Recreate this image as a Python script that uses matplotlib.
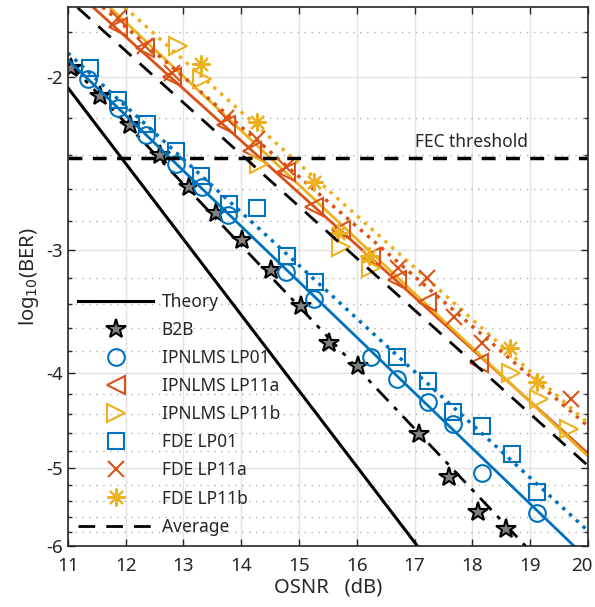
import numpy as np
import matplotlib
matplotlib.use("Agg")
import matplotlib.pyplot as plt
import matplotlib.transforms as mtransforms

plt.rcParams["font.family"] = ["Noto Sans", "DejaVu Sans"]
plt.rcParams["axes.unicode_minus"] = False

# values are log10(BER)
theory_osnr = [11.0, 17.05]
theory_ber = [-2.05, -6.0]

b2b_osnr = [11.06, 11.55, 12.07, 12.59, 13.10, 13.56, 14.02, 14.51, 15.04, 15.52, 16.02, 17.07, 17.60, 18.10, 18.59]
b2b_ber = [-1.96, -2.09, -2.24, -2.40, -2.59, -2.75, -2.93, -3.14, -3.42, -3.73, -3.94, -4.62, -5.11, -5.54, -5.77]
b2b_fit_osnr = [11.0, 18.92]
b2b_fit_ber = [-1.93, -6.0]

ip01_osnr = [11.35, 11.87, 12.36, 12.87, 13.33, 13.78, 14.78, 15.26, 16.24, 16.69, 17.23, 17.67, 18.17, 19.12]
ip01_ber = [-2.01, -2.15, -2.29, -2.45, -2.59, -2.76, -3.16, -3.36, -3.85, -4.06, -4.28, -4.51, -5.06, -5.55]
ip01_fit_osnr = [11.0, 19.76]
ip01_fit_ber = [-1.92, -6.0]

fde01_osnr = [11.38, 11.87, 12.37, 12.87, 13.31, 13.79, 14.28, 14.79, 15.27, 16.70, 17.23, 17.67, 18.17, 18.68, 19.12]
fde01_ber = [-1.96, -2.11, -2.23, -2.38, -2.52, -2.69, -2.72, -3.04, -3.23, -3.85, -4.08, -4.38, -4.53, -4.84, -5.29]
fde01_fit_osnr = [11.0, 20.0]
fde01_fit_ber = [-1.89, -5.79]

ip11a_osnr = [11.86, 12.33, 12.81, 13.74, 14.19, 14.78, 15.26, 15.72, 16.24, 16.69, 17.22, 18.12]
ip11a_ber = [-1.78, -1.87, -2.00, -2.24, -2.38, -2.50, -2.71, -2.86, -3.05, -3.22, -3.39, -3.91]
ip11a_fit_osnr = [11.43, 20.0]
ip11a_fit_ber = [-1.697, -4.83]

ip11b_osnr = [12.90, 13.33, 14.31, 15.72, 16.24, 18.67, 19.16, 19.67]
ip11b_ber = [-1.86, -2.01, -2.45, -2.98, -3.13, -4.00, -4.25, -4.56]
ip11b_fit_osnr = [11.72, 20.0]
ip11b_fit_ber = [-1.697, -4.86]

fde11a_osnr = [11.86, 12.33, 12.81, 13.74, 14.28, 14.78, 16.72, 17.22, 17.69, 18.16, 19.71]
fde11a_ber = [-1.74, -1.86, -1.98, -2.20, -2.31, -2.47, -3.13, -3.20, -3.51, -3.73, -4.25]
fde11a_fit_osnr = [11.6, 20.0]
fde11a_fit_ber = [-1.697, -4.53]

fde11b_osnr = [13.31, 14.28, 15.26, 15.67, 16.22, 18.66, 19.12]
fde11b_ber = [-1.94, -2.22, -2.56, -2.88, -3.04, -3.77, -4.09]
fde11b_fit_osnr = [11.98, 20.0]
fde11b_fit_ber = [-1.697, -4.50]

avg_osnr = [11.17, 20.0]
avg_ber = [-1.70, -4.97]

fec_ber = -2.42

BLUE = "#0072BD"
RED = "#D95319"
YEL = "#EDB120"
AX = "#262626"


def fwd(y):
    return -np.log10(np.clip(-np.asarray(y, dtype=float), 1e-3, None))


def inv(u):
    return -10 ** (-np.asarray(u, dtype=float))


fig = plt.figure(figsize=(5.95, 6.07), dpi=100)
ax = fig.add_axes([0.114, 0.1005, 0.874, 0.888])
ax.set_yscale("function", functions=(fwd, inv))

ms = 12
mew = 1.5
star = dict(marker="*", ms=15, mfc="#808080", mec="black", mew=1.5, ls="none")

ax.plot(theory_osnr, theory_ber, color="black", lw=2.2, label="Theory")
ax.plot(b2b_fit_osnr, b2b_fit_ber, color="black", lw=2, ls="-.", dashes=(6, 3, 1.5, 3))
ax.plot(b2b_osnr, b2b_ber, label="B2B", **star)

ax.plot(ip01_fit_osnr, ip01_fit_ber, color=BLUE, lw=2)
ax.plot(fde01_fit_osnr, fde01_fit_ber, color=BLUE, lw=2.5, ls=":")
ax.plot(ip11a_fit_osnr, ip11a_fit_ber, color=RED, lw=2)
ax.plot(ip11b_fit_osnr, ip11b_fit_ber, color=YEL, lw=2)
ax.plot(fde11a_fit_osnr, fde11a_fit_ber, color=RED, lw=2.5, ls=":")
ax.plot(fde11b_fit_osnr, fde11b_fit_ber, color=YEL, lw=2.5, ls=":")

ax.plot(ip01_osnr, ip01_ber, ls="none", marker="o", ms=ms, mfc="none", mec=BLUE, mew=mew, label="IPNLMS LP01")
ax.plot(ip11a_osnr, ip11a_ber, ls="none", marker="<", ms=ms + 1, mfc="none", mec=RED, mew=mew, label="IPNLMS LP11a")
ax.plot(ip11b_osnr, ip11b_ber, ls="none", marker=">", ms=ms + 1, mfc="none", mec=YEL, mew=mew, label="IPNLMS LP11b")
ax.plot(fde01_osnr, fde01_ber, ls="none", marker="s", ms=ms - 1, mfc="none", mec=BLUE, mew=mew, label="FDE LP01")
ax.plot(fde11a_osnr, fde11a_ber, ls="none", marker="x", ms=ms, mec=RED, mew=mew, label="FDE LP11a")
ax.plot(fde11b_osnr, fde11b_ber, ls="none", marker=(8, 2, 0), ms=ms + 1, mec=YEL, mew=mew, label="FDE LP11b")

ax.plot(avg_osnr, avg_ber, color="black", lw=2, ls=(0, (6, 4)), label="Average")
ax.axhline(fec_ber, color="black", lw=2.5, ls=(0, (4, 3)))
ax.text(17.0, -2.33, "FEC threshold", fontsize=12.5, color=AX, ha="left", va="center")

ax.set_xlim(11, 20)
ax.set_ylim(-6, -1.697)
ax.set_xticks(range(11, 21))
ax.set_yticks([-6, -5, -4, -3, -2])
ax.set_yticklabels(["-6", "-5", "-4", "-3", "-2"])
minor = [-k / 10 for k in range(18, 60, 2) if k % 10 != 0]
ax.set_yticks(minor, minor=True)
ax.yaxis.set_minor_formatter(plt.NullFormatter())

ax.grid(True, which="major", color="#e2e2e2", lw=1, ls="-")
ax.grid(True, which="minor", axis="y", color="#b0b0b0", lw=1, ls=(0, (1, 4)))
ax.set_axisbelow(True)
ax.tick_params(which="both", direction="in", top=True, right=True, colors=AX, labelsize=13.5, length=5, width=1)
ax.tick_params(which="minor", length=3)
ax.tick_params(axis="x", pad=8)
for s in ax.spines.values():
    s.set_color(AX)
    s.set_linewidth(1.2)

# keep the last x tick label inside the canvas
last = ax.get_xticklabels()[-1]
last.set_transform(last.get_transform() + mtransforms.ScaledTranslation(-6 / 100, 0, fig.dpi_scale_trans))

ax.set_xlabel("OSNR   (dB)", fontsize=14.5, color=AX, labelpad=2)
ax.set_ylabel("log$_{10}$(BER)", fontsize=14.5, color=AX, labelpad=4)

leg = ax.legend(loc="lower left", bbox_to_anchor=(0.0, 0.0), frameon=False, fontsize=12.5,
                handlelength=4.3, labelspacing=0.58, handletextpad=0.5, borderaxespad=0.2)
for t in leg.get_texts():
    t.set_color(AX)

fig.savefig("out.png", dpi=100)
